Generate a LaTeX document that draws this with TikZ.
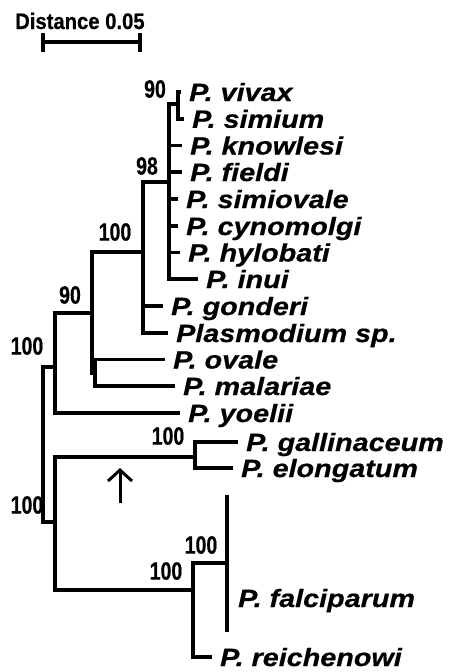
\documentclass[tikz,border=0pt]{standalone}
\usepackage{fontspec}
\setmainfont{Liberation Sans}
\newfontfamily\labfont[FakeStretch=1.15,FakeBold=0.6]{Liberation Sans}
\newfontfamily\numfont[FakeStretch=0.78,FakeBold=0.5]{Liberation Sans}
\newfontfamily\scfont[FakeStretch=0.9,FakeBold=0.5]{Liberation Sans}
\usetikzlibrary{arrows.meta}
\begin{document}
\begin{tikzpicture}[x=1pt,y=-1pt,
  tree/.style={line width=3.5pt},
  lab/.style={anchor=base west, inner sep=0pt, xshift=8pt, yshift=-9pt,
    font=\labfont\fontsize{25}{29}\selectfont\bfseries\itshape},
  bootlab/.style={inner sep=0pt, font=\numfont\fontsize{25}{29}\selectfont\bfseries},
  sclab/.style={anchor=base west, inner sep=0pt, font=\scfont\fontsize{22.5}{26}\selectfont\bfseries}]
\useasboundingbox (0,0) rectangle (452,672);
% scale bar
\coordinate (sb1) at (43,42);
\coordinate (sb2) at (140,42);
\node[sclab] (sctext) at (15,29) {Distance 0.05};
\draw[tree] (sb1) -- (sb2);
\draw[tree] ([yshift=9pt]sb1) -- ([yshift=-10pt]sb1);
\draw[tree] ([yshift=9pt]sb2) -- ([yshift=-10pt]sb2);
% internal nodes
\coordinate (root) at (43,444);
\coordinate (mam) at (55,367);
\coordinate (bf) at (55,522);
\coordinate (n90) at (92,313);
\coordinate (om) at (95,373);
\coordinate (n100) at (143,252);
\coordinate (n98) at (169,182);
\coordinate (vs) at (178,104);
\coordinate (gal) at (195,457);
\coordinate (fr) at (193,590);
% leaves
\coordinate (viv) at (181,92);
\coordinate (sim) at (184,118.75);
\coordinate (kno) at (182,145.5);
\coordinate (fie) at (182,172);
\coordinate (sio) at (178,199);
\coordinate (cyn) at (178,226);
\coordinate (hyl) at (180,252.5);
\coordinate (inu) at (198,279);
\coordinate (gon) at (163,306);
\coordinate (psp) at (168,333);
\coordinate (ova) at (165,359.5);
\coordinate (mal) at (175,386);
\coordinate (yoe) at (180,413);
\coordinate (gall) at (238,442);
\coordinate (elo) at (233,468);
\coordinate (fal) at (227,563);
\coordinate (falt) at (227,495);
\coordinate (falb) at (227,632);
\coordinate (fallab) at (230,598);
\coordinate (rei) at (212,657);
% branches
\draw[tree] (root) |- (mam);
\draw[tree] (root) |- (bf);
\draw[tree] (mam) |- (n90);
\draw[tree] (mam) |- (yoe);
\draw[tree] (n90) |- (n100);
\draw[tree] (n90) |- (om);
\draw[tree] (om) |- (ova);
\draw[tree] (om) |- (mal);
\draw[tree] (n100) |- (n98);
\draw[tree] (n100) |- (gon);
\draw[tree] (n100) |- (psp);
\draw[tree] (n98) |- (vs);
\draw[tree] (n98) |- (kno);
\draw[tree] (n98) |- (fie);
\draw[tree] (n98) |- (sio);
\draw[tree] (n98) |- (cyn);
\draw[tree] (n98) |- (hyl);
\draw[tree] (n98) |- (inu);
\draw[tree] (vs) |- (viv);
\draw[tree] (vs) |- (sim);
\draw[tree] (bf) |- (gal);
\draw[tree] (bf) |- (fr);
\draw[tree] (gal) |- (gall);
\draw[tree] (gal) |- (elo);
\draw[tree] (fr) |- (fal);
\draw[tree] (fr) |- (rei);
\draw[tree] (falt) -- (falb);
% leaf labels
\node[lab] (tviv) at (viv) {P. vivax};
\node[lab] (tsim) at (sim) {P. simium};
\node[lab] (tkno) at (kno) {P. knowlesi};
\node[lab] (tfie) at (fie) {P. fieldi};
\node[lab] (tsio) at (sio) {P. simiovale};
\node[lab] (tcyn) at (cyn) {P. cynomolgi};
\node[lab] (thyl) at (hyl) {P. hylobati};
\node[lab] (tinu) at (inu) {P. inui};
\node[lab] (tgon) at (gon) {P. gonderi};
\node[lab] (tpsp) at (psp) {Plasmodium sp.};
\node[lab] (tova) at (ova) {P. ovale};
\node[lab] (tmal) at (mal) {P. malariae};
\node[lab] (tyoe) at (yoe) {P. yoelii};
\node[lab] (tgal) at (gall) {P. gallinaceum};
\node[lab] (telo) at (elo) {P. elongatum};
\node[lab] (tfal) at (fallab) {P. falciparum};
\node[lab] (trei) at (rei) {P. reichenowi};
% bootstrap values
\node[bootlab] (b1) at (155,89) {90};
\node[bootlab] (b2) at (147,166) {98};
\node[bootlab] (b3) at (115,232) {100};
\node[bootlab] (b4) at (70,295) {90};
\node[bootlab] (b5) at (27,346) {100};
\node[bootlab] (b6) at (168,436) {100};
\node[bootlab] (b7) at (27,505) {100};
\node[bootlab] (b8) at (201,545) {100};
\node[bootlab] (b9) at (166,571) {100};
% arrow
\coordinate (arb) at (120,503);
\coordinate (art) at (120,468);
\draw[line width=3pt, -{Straight Barb[length=11pt,width=24pt]}] (arb) -- (art);
\end{tikzpicture}
\end{document}
